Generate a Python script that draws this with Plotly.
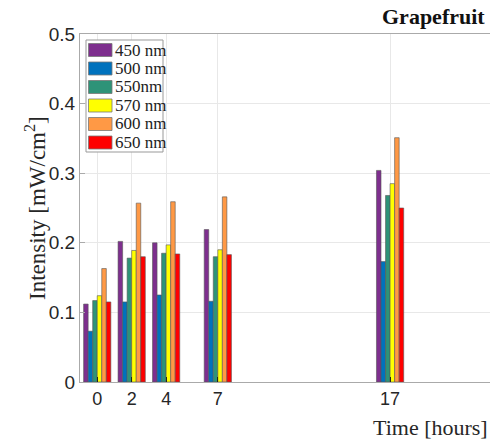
import plotly.graph_objects as go

hours = [0, 2, 4, 7, 17]
series_names = ["450 nm", "500 nm", "550nm", "570 nm", "600 nm", "650 nm"]
v450 = [0.112, 0.202, 0.200, 0.219, 0.304]
v500 = [0.073, 0.115, 0.125, 0.116, 0.173]
v550 = [0.117, 0.178, 0.185, 0.180, 0.268]
v570 = [0.124, 0.189, 0.197, 0.190, 0.285]
v600 = [0.163, 0.257, 0.259, 0.266, 0.351]
v650 = [0.115, 0.180, 0.184, 0.183, 0.250]
colors = ["#7E2F8E", "#0072BD", "#2E9378", "#FFFF00", "#FF9945", "#FF0000"]

W, H = 490, 443
ML, MR, MT, MB = 80, 0, 34, 61
PW, PH = W - ML - MR, H - MT - MB

def px(x):
    return (x - ML) / PW

def py(y):
    return (H - MB - y) / PH

fig = go.Figure()
for name, vals, c in zip(series_names, [v450, v500, v550, v570, v600, v650], colors):
    fig.add_trace(go.Bar(x=hours, y=vals, name=name, marker_color=c,
                         marker_line=dict(color="#555555", width=0.6)))

fig.update_layout(
    width=W, height=H,
    margin=dict(l=ML, r=MR, t=MT, b=MB),
    paper_bgcolor="white", plot_bgcolor="white",
    barmode="group", bargap=0.21, bargroupgap=0,
    showlegend=False,
    font=dict(family="Liberation Sans, Arial", color="#262626"),
)
fig.update_xaxes(range=[-1, 22.8], tickvals=hours, ticktext=[str(h) for h in hours],
                 showgrid=True, gridcolor="#e8e8e8", gridwidth=1,
                 showline=True, linecolor="#aaaaaa", mirror=True,
                 ticks="inside", ticklen=5, tickcolor="#222222",
                 tickfont=dict(size=18, family="Liberation Sans, Arial", color="#262626"),
                 zeroline=False)
fig.update_yaxes(range=[0, 0.5], tickvals=[0, 0.1, 0.2, 0.3, 0.4, 0.5],
                 ticktext=["0", "0.1", "0.2", "0.3", "0.4", "0.5"],
                 showgrid=True, gridcolor="#e8e8e8", gridwidth=1,
                 showline=True, linecolor="#aaaaaa", mirror=True,
                 ticks="inside", ticklen=5, tickcolor="#aaaaaa",
                 tickfont=dict(size=19, family="Liberation Sans, Arial", color="#262626"),
                 zeroline=False)

# custom legend (MATLAB-style)
fig.add_shape(type="rect", xref="paper", yref="paper",
              x0=px(86), x1=px(163), y0=py(152), y1=py(40),
              line=dict(color="#999999", width=1), fillcolor="white", layer="above")
for i, (name, c) in enumerate(zip(series_names, colors)):
    cy = 50 + 18.5 * i
    fig.add_shape(type="rect", xref="paper", yref="paper",
                  x0=px(88.5), x1=px(112), y0=py(cy + 6.5), y1=py(cy - 6.5),
                  line=dict(color="#777777", width=0.8), fillcolor=c, layer="above")
    fig.add_annotation(text=name, xref="paper", yref="paper",
                       x=px(113), y=py(cy), xanchor="left", yanchor="middle",
                       showarrow=False,
                       font=dict(family="Liberation Serif", size=17, color="#222222"))

fig.add_annotation(text="<b>Grapefruit</b>", xref="paper", yref="paper",
                   x=px(433), y=py(17), xanchor="center", yanchor="middle",
                   showarrow=False, font=dict(family="Liberation Serif", size=22, color="#111111"))
fig.add_annotation(text="Time [hours]", xref="paper", yref="paper",
                   x=px(430), y=py(427), xanchor="center", yanchor="middle",
                   showarrow=False, font=dict(family="Liberation Serif", size=22, color="#262626"))
fig.add_annotation(text="Intensity [mW/cm<sup>2</sup>]", xref="paper", yref="paper",
                   x=px(35), y=py(208), xanchor="center", yanchor="middle",
                   textangle=-90, showarrow=False,
                   font=dict(family="Liberation Serif", size=23, color="#262626"))

fig.write_html("out.html")
